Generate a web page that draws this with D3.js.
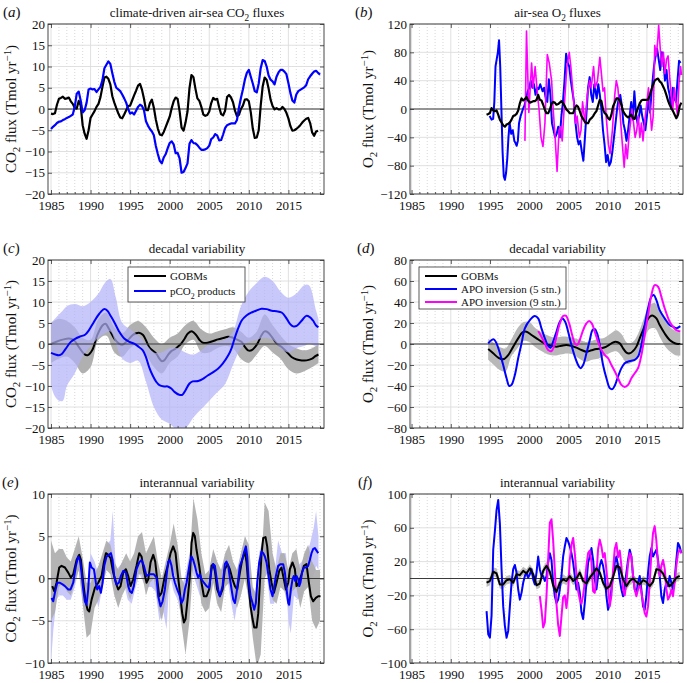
<!DOCTYPE html>
<html><head><meta charset="utf-8">
<script src="https://cdn.jsdelivr.net/npm/d3@7"></script>
<style>body{margin:0;background:#fff}</style>
</head><body>
<script>
// ---------------- DATA ----------------
const MAJOR_YEARS = [1985, 1990, 1995, 2000, 2005, 2010, 2015];
const MINOR_YEARS = [1985,1986,1987,1988,1989,1990,1991,1992,1993,1994,1995,1996,1997,1998,1999,2000,2001,2002,2003,2004,2005,2006,2007,2008,2009,2010,2011,2012,2013,2014,2015,2016,2017,2018,2019];
const X_ACE = [1984.62, 2019.5];
const X_BDF = [1984.8, 2019.6];
const Y_TICKS_A = [-20,-15,-10,-5,0,5,10,15,20];
const Y_TICKS_B = [-120,-80,-40,0,40,80,120];
const Y_TICKS_C = [-20,-15,-10,-5,0,5,10,15,20];
const Y_TICKS_D = [-80,-60,-40,-20,0,20,40,60,80];
const Y_TICKS_E = [-10,-5,0,5,10];
const Y_TICKS_F = [-100,-60,-20,20,60,100];

// (a) quarterly from 1985.0
const A_START = 1985.0, A_STEP = 0.25;
const aGOBM = [-1.1,-1.2,-1.0,1.0, 2.4,2.6,2.9,2.4, 2.5,2.7,1.8,1.2, 0.2,0.1,1.9,0.8, -3.8,-5.8,-7.0,-5.0, -2.1,-1.3,-0.5,0.5, 1.2,2.8,5.2,7.4, 7.6,7.1,5.8,3.0, 1.5,0.2,-1.0,-2.0, -2.2,-1.3,-0.3,0.7, 0.8,2.0,3.2,4.3, 5.5,5.9,4.5,2.4, -0.2,-0.3,1.4,2.2, 0.3,-2.5,-4.6,-6.0, -6.2,-5.4,-4.2,-3.0, -1.8,0.2,1.8,2.7, 2.4,-0.5,-4.4,-5.1, -3.2,-0.6,4.9,8.0, 7.5,4.8,2.5,1.9, 0.5,-1.3,-1.6,-1.4, -0.6,1.4,2.6,2.2, 2.4,0.4,-1.2,-1.5, -0.4,2.8,3.3,2.7, 1.6,-0.4,-1.7,-1.4, 0.0,0.8,2.2,2.3, 1.8,-0.8,-4.6,-6.8, -6.7,-5.0,0.8,5.3, 7.4,6.9,4.8,2.2, 0.7,-0.1,0.2,-0.1, -0.1,0.5,0.0,-0.9, -2.2,-4.0,-5.1,-5.0, -4.7,-4.3,-3.8,-3.2, -2.7,-2.3,-2.1,-3.3, -5.5,-6.3,-5.3,-5.1];
const aPCO2 = [-4.7,-4.2,-3.8,-3.3, -3.0,-2.9,-2.6,-2.4, -2.1,-1.9,-1.6,-1.3, 0.5,3.6,4.1,2.0, -0.8,-0.3,1.5,4.6, 4.8,4.6,4.7,4.0, 4.6,5.2,6.8,9.6, 10.4,11.2,10.6,8.4, 6.4,5.0,4.6,4.2, 3.4,2.5,1.5,0.0, -1.1,-0.8,-1.3,-0.4, 0.5,1.0,0.7,-0.3, -2.9,-3.9,-4.7,-5.3, -6.2,-8.7,-10.6,-12.2, -12.8,-11.4,-10.6,-9.2, -8.0,-7.6,-8.3,-10.4, -10.3,-11.6,-15.0,-14.8, -13.9,-12.8,-8.2,-7.3, -8.0,-8.1,-8.5,-9.1, -9.6,-9.6,-9.5,-9.2, -8.6,-7.1,-6.7,-5.9, -6.2,-7.4,-7.3,-6.0, -4.5,-3.8,-3.6,-3.4, -3.4,-3.4,-2.6,0.3, 2.6,4.6,6.9,8.5, 9.2,7.6,6.0,4.2, 3.9,6.0,9.6,11.5, 11.3,10.0,7.9,6.9, 6.5,5.8,7.6,8.6, 9.2,9.2,8.8,8.2, 6.1,3.8,2.0,1.5, 3.4,4.2,4.5,4.8, 5.1,5.6,7.0,7.7, 8.3,8.8,9.0,8.5, 8.1];

// (b)
const B_START = 1994.56, B_STEP = 0.2122;
const bGOBM = [-8,-7,-5.7,1.4,-2,-3,-2,-8,-15,-19, -23,-25,-22,-21,-19,-15,-10,-9,-7,-2, 8,15,12,14,17,12,9,10,11,11, 13,20,13,12,6,-1,-6,-6,-1,7, 10,9,6,7,9,11,8,4,-1,-3, -6,-6,-6,1,5,3,-3,-10,-14,-18, -20,-20,-15,-13,-10,-6,-3,5,13,11, -1,-6,-8,-13,-15,-8,4,9,15,15, 12,6,-3,-7,-10,-12,-10,-8,-13,-14, -5,2,8,12,13,13,13,13,19,27, 34,40,42,43,39,37,32,27,20,12, 6,1,-3,-8,-13,-8,4,9];
const bAPO5 = [[1994.95,-10],[1995.2,-15],[1995.4,-14],[1995.55,10],[1995.7,60],[1995.85,70],[1996.0,80],[1996.15,97],[1996.3,60],[1996.45,0],[1996.6,-60],[1996.75,-95],[1996.9,-100],[1997.05,-90],[1997.2,-70],[1997.35,-40],[1997.5,-20],[1997.7,-35],[1997.9,-30],[1998.1,-45],[1998.25,-48],[1998.4,-52],[1998.55,-45],[1998.7,-20],[1998.9,-10],[1999.2,0],[1999.4,5],[1999.6,15],[1999.8,25],[2000.0,30],[2000.2,40],[2000.4,30],[2000.6,35],[2000.8,20],[2001.0,30],[2001.2,28],[2001.4,35],[2001.7,25],[2001.9,30],[2002.1,15],[2002.3,10],[2002.5,42],[2002.7,20],[2002.9,-20],[2003.1,-30],[2003.3,-40],[2003.5,-35],[2003.7,-25],[2003.9,-40],[2004.1,-10],[2004.3,10],[2004.5,40],[2004.7,78],[2004.9,65],[2005.1,60],[2005.3,40],[2005.5,25],[2005.7,10],[2005.9,-20],[2006.1,-40],[2006.3,-50],[2006.5,-45],[2006.7,-60],[2006.9,-73],[2007.1,-40],[2007.3,-5],[2007.5,30],[2007.7,45],[2007.9,20],[2008.1,10],[2008.3,35],[2008.6,15],[2008.8,35],[2009.0,20],[2009.2,0],[2009.4,-30],[2009.6,-50],[2009.8,-75],[2010.0,-65],[2010.2,-80],[2010.4,-75],[2010.6,-60],[2010.8,-40],[2011.0,-20],[2011.2,0],[2011.4,15],[2011.6,20],[2011.8,5],[2012.0,-20],[2012.2,-30],[2012.4,-45],[2012.6,-30],[2012.8,-10],[2013.0,10],[2013.2,-15],[2013.4,25],[2013.6,-5],[2013.8,-20],[2014.0,-10],[2014.2,5],[2014.4,-10],[2014.6,-20],[2014.8,-30],[2015.0,-10],[2015.2,15],[2015.4,-5],[2015.6,25],[2015.9,60],[2016.1,75],[2016.3,85],[2016.5,70],[2016.7,55],[2016.9,80],[2017.1,70],[2017.3,40],[2017.5,55],[2017.7,30],[2017.9,20],[2018.1,0],[2018.3,30],[2018.5,15],[2018.7,10],[2018.9,40],[2019.1,68],[2019.3,65]];
const bAPO9 = [[1999.45,-45],[1999.65,110],[1999.95,-5],[2000.3,65],[2000.5,30],[2000.75,60],[2001.05,20],[2001.25,0],[2001.5,-40],[2001.75,-53],[2002.0,-20],[2002.3,77],[2002.55,65],[2002.85,40],[2003.05,0],[2003.3,-40],[2003.55,-88],[2003.8,-30],[2004.0,-25],[2004.2,-45],[2004.5,10],[2004.8,60],[2005.1,80],[2005.3,60],[2005.6,20],[2005.9,-20],[2006.1,-10],[2006.4,-40],[2006.6,-30],[2006.8,10],[2007.1,-20],[2007.4,20],[2007.7,40],[2007.9,30],[2008.2,60],[2008.4,30],[2008.7,40],[2009.0,73],[2009.2,50],[2009.4,25],[2009.6,30],[2009.8,-10],[2010.1,-50],[2010.3,-63],[2010.6,-30],[2010.9,20],[2011.1,40],[2011.3,30],[2011.6,-10],[2011.8,-40],[2012.1,-82],[2012.3,-50],[2012.5,-70],[2012.7,-40],[2012.9,-20],[2013.1,0],[2013.3,-20],[2013.5,-40],[2013.7,-30],[2013.9,-10],[2014.1,-40],[2014.3,-20],[2014.5,-45],[2014.7,-20],[2015.0,10],[2015.2,30],[2015.4,0],[2015.6,-30],[2015.8,-10],[2016.0,90],[2016.2,75],[2016.4,100],[2016.5,118],[2016.7,85],[2016.9,60],[2017.1,80],[2017.3,50],[2017.5,70],[2017.7,75],[2017.9,45],[2018.1,20],[2018.3,0],[2018.5,30],[2018.7,10],[2018.9,-10],[2019.1,40],[2019.3,60],[2019.4,48]];

// (c) decadal CO2
const cGOBM = [[1985.0,0],[1985.76,0.6],[1986.6,1.1],[1987.25,1.3],[1987.9,0.9],[1988.5,-0.7],[1989.15,-2.3],[1989.6,-2.7],[1990.2,-1.5],[1990.85,2.1],[1991.5,4.4],[1991.9,4.8],[1992.3,3.7],[1993.0,1.3],[1993.6,0.1],[1994.0,-0.2],[1994.7,0.9],[1995.3,2.1],[1995.7,2.5],[1996.1,2.7],[1996.6,2.2],[1997.0,0.9],[1997.4,-0.7],[1997.8,-1.5],[1998.3,-2.3],[1998.7,-3.5],[1999.0,-4.1],[1999.3,-3.9],[1999.75,-2.7],[2000.2,-1.7],[2000.6,-1.3],[2001.0,-0.7],[2001.45,0.1],[2001.9,1.3],[2002.3,2.5],[2002.85,3.0],[2003.35,2.1],[2003.8,0.9],[2004.2,0.3],[2004.8,0.3],[2005.5,0.7],[2006.1,1.1],[2006.7,1.4],[2007.4,1.7],[2007.8,1.6],[2008.2,1.3],[2008.65,0.9],[2009.1,0.5],[2009.5,-0.7],[2009.9,-1.5],[2010.35,-1.5],[2010.8,-0.7],[2011.2,0.5],[2011.6,2.1],[2012.0,3.0],[2012.45,2.7],[2012.9,1.7],[2013.5,0.2],[2014.15,-0.7],[2014.8,-1.9],[2015.4,-3.1],[2016.05,-3.7],[2016.7,-3.9],[2017.3,-3.9],[2018.0,-3.5],[2018.4,-2.9],[2018.8,-2.5]];
const cGOBMBand = [[1985,5.0,-4.5],[1986,6.0,-3.5],[1987,5.5,-3.0],[1988,4.0,-4.5],[1989,1.5,-7.0],[1990,1.0,-5.5],[1991,6.0,1.0],[1992,7.5,2.0],[1993,4.0,-2.0],[1994,2.5,-3.0],[1995,4.5,-1.0],[1996,5.5,0.0],[1997,4.0,-2.5],[1998,1.5,-5.5],[1999,0.0,-7.0],[2000,1.5,-4.5],[2001,2.5,-3.0],[2002,4.5,0.0],[2003,5.5,1.0],[2004,3.5,-2.0],[2005,2.5,-2.0],[2006,3.0,-1.0],[2007,3.5,-0.5],[2008,4.0,-1.0],[2009,3.0,-3.5],[2010,1.5,-4.5],[2011,3.0,-2.5],[2012,7.0,-0.5],[2013,4.5,-2.0],[2014,2.0,-3.5],[2015,0.0,-6.0],[2016,-1.0,-7.0],[2017,-1.5,-6.5],[2018,-1.0,-5.5],[2018.8,0.0,-4.5]];
const cPCO2 = [[1985.0,-2.1],[1985.55,-2.5],[1986.0,-2.7],[1986.4,-2.3],[1986.8,-1.3],[1987.5,0.5],[1988.1,1.3],[1988.7,1.8],[1989.3,2.2],[1989.8,3.3],[1990.4,5.2],[1991.1,7.2],[1991.7,8.3],[1992.1,8.0],[1992.5,6.8],[1993.0,5.2],[1993.6,3.0],[1994.25,1.3],[1994.9,0.5],[1995.5,0.1],[1996.1,-0.7],[1996.6,-1.5],[1997.0,-3.1],[1997.4,-5.5],[1997.85,-7.5],[1998.3,-9.0],[1998.7,-9.8],[1999.3,-10.1],[1999.75,-10.1],[2000.2,-10.6],[2000.6,-11.4],[2001.2,-12.1],[2001.6,-12.1],[2002.0,-11.0],[2002.5,-9.4],[2002.9,-8.9],[2003.6,-8.8],[2004.2,-8.3],[2004.8,-7.5],[2005.5,-6.7],[2006.1,-5.9],[2006.7,-4.7],[2007.4,-2.7],[2007.8,-1.1],[2008.2,1.3],[2008.65,3.7],[2009.1,5.6],[2009.7,6.8],[2010.35,7.5],[2011.0,8.0],[2011.6,8.4],[2012.25,8.3],[2012.9,7.9],[2013.5,7.8],[2014.15,7.5],[2014.8,6.0],[2015.2,4.8],[2015.6,4.2],[2016.05,4.3],[2016.7,5.6],[2017.25,6.7],[2017.7,6.4],[2018.1,5.6],[2018.5,4.4],[2018.8,4.0]];
const cPCO2Band = [[1985,5,-10],[1985.5,6,-12.5],[1986,7,-13.5],[1986.5,8,-13.5],[1987,9,-10],[1988,9.5,-7],[1989,9,-3],[1990,10,-0.5],[1991,12,1.5],[1991.8,14.5,2.5],[1992.5,15.5,3],[1993.2,11,0],[1994,5,-3.5],[1995,3.5,-4.5],[1996,2,-4],[1997,0,-9],[1998,-2,-15],[1999,-2,-18],[2000,-1,-19],[2001,-1,-20.5],[2002,-2,-20],[2003,-2.5,-17.5],[2004,-1.5,-15.5],[2005,0,-13.5],[2006,0.5,-11.5],[2007,1,-9.5],[2008,3,-5],[2009,9,-1],[2010,12.5,0.5],[2011,14.5,1],[2012,16,1.5],[2013,15,1],[2014,12.5,-1],[2015,11,-2],[2016,12,-1],[2017,14,-0.5],[2017.6,14,0],[2018.5,8,-0.5],[2018.8,6,-0.5]];

// (d) decadal O2
const dGOBM = [[1994.77,-4.8],[1995.41,-8.9],[1996.05,-13],[1996.68,-14.6],[1997.32,-10.5],[1997.96,-2.5],[1998.59,5.4],[1999.14,11.1],[1999.65,11.7],[2000.29,8.6],[2000.93,5.4],[2001.56,2.2],[2002.2,-0.3],[2002.84,-1.6],[2003.47,-2.5],[2004.11,-1.6],[2004.75,-1.0],[2005.38,-1.9],[2006.02,-3.5],[2006.66,-5.7],[2007.29,-7.3],[2007.93,-6.0],[2008.57,-4.8],[2009.2,-4.1],[2009.84,-2.5],[2010.48,0.6],[2011.03,2.2],[2011.54,0.6],[2011.96,-4.1],[2012.39,-8.2],[2012.81,-8.9],[2013.23,-6.7],[2013.66,-2.5],[2014.08,5.4],[2014.51,13.3],[2014.93,21.2],[2015.36,26],[2015.78,27],[2016.21,24.4],[2016.63,18],[2017.27,10],[2017.9,3.8],[2018.33,1.6],[2018.75,0.3],[2019.26,0]];
const dGOBMBand = [[1994.77,5,-15],[1995.5,1,-20],[1996.3,-3,-25],[1997.0,-4,-26],[1997.7,4,-12],[1998.5,15,-4],[1999.3,21,3],[2000.0,21,2],[2000.8,15,-3],[2001.6,11,-7],[2002.4,8,-10],[2003.2,6,-11],[2004.0,7,-10],[2004.8,7,-9],[2005.6,6,-10],[2006.4,4,-14],[2007.2,2,-17],[2008.0,3,-15],[2008.8,5,-14],[2009.6,6,-11],[2010.4,10,-8],[2011.1,13,-7],[2011.8,9,-12],[2012.5,1,-19],[2013.2,2,-17],[2013.9,10,-10],[2014.6,24,2],[2015.3,37,14],[2016.0,39,15],[2016.7,31,6],[2017.4,22,-3],[2018.1,15,-8],[2018.8,12,-11],[2019.26,11,-11]];
const dAPO5 = [[1994.77,0.6],[1995.2,3.8],[1995.49,4.4],[1995.83,0.6],[1996.26,-8.9],[1996.68,-20],[1997.11,-32.6],[1997.45,-40],[1997.74,-39],[1998.17,-29.5],[1998.59,-13.6],[1999.02,0.6],[1999.44,14.9],[2000.08,22.8],[2000.71,26.6],[2001.14,24.4],[2001.56,14.9],[2001.99,5.4],[2002.41,-1.9],[2002.71,-3.5],[2003.05,2.2],[2003.47,11.7],[2003.9,21.2],[2004.24,24.4],[2004.58,21.2],[2004.96,11.7],[2005.38,-1.0],[2005.81,-12],[2006.23,-20],[2006.53,-23],[2006.87,-20],[2007.29,-8.9],[2007.72,3.8],[2008.06,13.3],[2008.35,14.3],[2008.65,10.1],[2008.99,-1.0],[2009.41,-20],[2009.84,-32.6],[2010.26,-42],[2010.6,-43],[2010.94,-39],[2011.32,-31],[2011.75,-23],[2012.17,-18.4],[2012.6,-16.8],[2013.02,-16],[2013.45,-15.2],[2013.87,-12],[2014.3,-1.0],[2014.72,18],[2015.14,33.9],[2015.57,45],[2015.87,46.6],[2016.21,41.8],[2016.63,32.3],[2017.27,24.4],[2017.9,18],[2018.33,16.5],[2018.75,15],[2019.26,17]];
const dAPO9 = [[2001.14,12.4],[2001.56,7],[2001.99,0.6],[2002.41,-5.7],[2002.84,-6.7],[2003.13,-2.5],[2003.47,7],[2003.9,19.6],[2004.32,26.6],[2004.66,27],[2005.09,19.6],[2005.47,8.6],[2005.81,0.6],[2006.1,-1],[2006.44,3.8],[2006.87,13.3],[2007.29,19.6],[2007.63,21.9],[2007.97,19.6],[2008.35,11.7],[2008.78,2.2],[2009.2,-5.7],[2009.63,-10.5],[2010.05,-13.6],[2010.48,-20],[2010.9,-26],[2011.32,-32.6],[2011.75,-39],[2012.17,-41],[2012.6,-39],[2013.02,-32.6],[2013.45,-27.9],[2013.87,-23],[2014.3,-10.5],[2014.72,8.6],[2015.14,27.6],[2015.57,46.6],[2015.99,56],[2016.42,54.5],[2016.84,45],[2017.27,33.9],[2017.9,21.2],[2018.33,16.5],[2018.75,13.3],[2019.26,12]];

// (e) interannual CO2
const eGOBM = [[1985.16,-0.9],[1985.41,-1.5],[1985.70,-0.5],[1986.04,1.3],[1986.33,1.5],[1986.76,1.3],[1987.18,0.7],[1987.51,0.1],[1987.81,0.5],[1988.23,2.2],[1988.57,2.8],[1988.78,2.2],[1989.07,-0.5],[1989.37,-2.7],[1989.62,-3.7],[1989.83,-3.9],[1990.13,-2.5],[1990.55,-1.1],[1990.97,-0.5],[1991.39,0.3],[1991.68,1.9],[1991.94,3.0],[1992.23,2.8],[1992.53,2.4],[1992.86,0.7],[1993.20,-0.5],[1993.49,-1.3],[1993.79,-0.9],[1994.13,0.7],[1994.46,1.1],[1994.76,0.3],[1995.05,-0.9],[1995.39,-0.1],[1995.81,1.5],[1996.15,3.0],[1996.44,2.6],[1996.74,0.9],[1997.07,-0.5],[1997.29,-0.1],[1997.58,1.9],[1997.92,2.8],[1998.17,2.0],[1998.42,-0.1],[1998.68,-2.1],[1998.97,-1.7],[1999.39,0.3],[1999.81,1.7],[2000.11,3.0],[2000.44,3.8],[2000.74,3.0],[2000.95,1.1],[2001.29,-1.7],[2001.58,-4.1],[2001.79,-5.2],[2002.00,-4.8],[2002.26,-2.5],[2002.55,0.3],[2002.76,4.2],[2002.97,5.4],[2003.18,5.0],[2003.39,3.4],[2003.73,1.5],[2004.02,-0.5],[2004.32,-2.1],[2004.66,-2.1],[2004.99,-1.3],[2005.29,1.5],[2005.50,1.7],[2005.71,0.9],[2006.00,-1.3],[2006.34,-2.1],[2006.68,-1.3],[2006.97,1.1],[2007.31,1.7],[2007.60,1.1],[2007.94,-0.1],[2008.24,-0.9],[2008.53,-1.3],[2008.87,0.7],[2009.16,2.2],[2009.50,3.2],[2009.71,1.9],[2009.92,-0.5],[2010.22,-3.3],[2010.47,-4.8],[2010.68,-5.8],[2010.98,-5.8],[2011.19,-4.1],[2011.40,-0.5],[2011.61,3.0],[2011.82,4.8],[2012.11,4.9],[2012.32,3.8],[2012.58,1.1],[2012.87,-0.5],[2013.17,-1.7],[2013.50,-0.5],[2013.84,0.9],[2014.13,1.3],[2014.43,-0.1],[2014.68,-1.3],[2014.98,-0.5],[2015.19,1.1],[2015.52,1.9],[2015.82,1.1],[2016.03,-0.9],[2016.32,-0.5],[2016.66,0.5],[2016.96,1.5],[2017.29,1.7],[2017.59,-0.5],[2017.84,-2.1],[2018.13,-2.7],[2018.47,-2.3],[2018.77,-2.1],[2019.06,-2.1]];
const eGOBMBand = [[1985.0,4.5,-5],[1985.5,3,-4],[1986,3.5,-1],[1986.5,3.5,-0.5],[1987,2.5,-1.5],[1987.5,2,-2],[1988,3.5,-0.5],[1988.5,5,1],[1989,2.5,-3],[1989.5,-0.5,-7],[1990,-0.5,-6.5],[1990.5,0.5,-3.5],[1991,1.5,-2.5],[1991.5,3,-1],[1992,4.5,1],[1992.5,4,0.5],[1993,2,-2],[1993.5,1,-3.5],[1994,2,-2],[1994.5,3,-1],[1995,2,-2.5],[1995.5,3,-1],[1996,5,0.5],[1996.5,5.5,0.5],[1997,3,-2],[1997.5,4,-0.5],[1998,5,0],[1998.5,2,-3],[1999,0,-5],[1999.5,2,-2.5],[2000,4,-0.5],[2000.5,6.5,1],[2001,4,-1],[2001.5,0,-5.5],[2002,-1,-9],[2002.5,2,-5],[2003,9.5,2],[2003.5,7,1],[2004,3,-3],[2004.5,0.5,-4],[2005,1,-3.5],[2005.5,3.5,-0.5],[2006,2,-3],[2006.5,1,-4],[2007,3,-1],[2007.5,4,-0.5],[2008,2,-2],[2008.5,1,-3.5],[2009,3,-2],[2009.5,5,0],[2010,4,-2.5],[2010.5,-1,-7],[2011,-2,-10.5],[2011.5,0,-9],[2012,9,0],[2012.5,8,1],[2013,3,-2.5],[2013.5,1,-3],[2014,3,-1],[2014.5,3,-1.5],[2015,1,-3.5],[2015.5,3,-1.5],[2016,3.5,-1],[2016.5,1,-3.5],[2017,3,-1.5],[2017.5,4,-1],[2018,2,-5],[2018.5,1,-6],[2019.0,1,-5]];
const ePCO2 = [[1985.07,-2.3],[1985.28,-2.7],[1985.49,-1.7],[1985.79,-0.5],[1986.12,-0.5],[1986.46,-0.7],[1986.76,-0.9],[1987.18,-1.3],[1987.47,-1.3],[1987.81,-0.5],[1988.15,1.5],[1988.44,2.6],[1988.65,2.2],[1988.86,0.7],[1989.07,-1.3],[1989.28,-2.7],[1989.49,-3.1],[1989.70,-1.3],[1989.91,1.9],[1990.13,1.3],[1990.42,1.1],[1990.67,-0.5],[1990.84,-1.3],[1991.09,-0.9],[1991.30,-1.7],[1991.52,-0.5],[1991.73,1.5],[1992.02,2.6],[1992.32,2.8],[1992.57,3.0],[1992.78,2.2],[1992.99,0.3],[1993.28,-0.7],[1993.58,-0.5],[1993.83,0.3],[1994.13,0.9],[1994.46,0.7],[1994.76,-0.9],[1994.97,-1.5],[1995.22,-1.7],[1995.47,-0.9],[1995.81,1.1],[1996.15,1.9],[1996.44,2.2],[1996.74,1.5],[1997.07,0.3],[1997.41,0.5],[1997.71,0.5],[1998.00,0.5],[1998.34,0.1],[1998.55,-2.1],[1998.84,-3.3],[1999.10,-2.7],[1999.39,-1.3],[1999.60,0.3],[1999.81,2.0],[2000.02,2.2],[2000.23,1.5],[2000.44,0.3],[2000.66,-0.5],[2000.95,-1.3],[2001.29,-2.1],[2001.50,-2.9],[2001.71,-2.5],[2001.92,-1.3],[2002.13,-0.5],[2002.34,0.7],[2002.55,1.9],[2002.76,2.6],[2002.97,2.2],[2003.18,1.5],[2003.39,0.7],[2003.60,0.1],[2003.81,0.5],[2004.02,-0.1],[2004.32,-0.5],[2004.66,-0.9],[2004.99,-1.1],[2005.29,1.1],[2005.50,1.7],[2005.71,1.5],[2005.92,0.1],[2006.13,-1.3],[2006.34,-2.1],[2006.68,-0.9],[2006.97,1.7],[2007.18,2.0],[2007.39,1.5],[2007.60,0.1],[2007.82,-1.3],[2008.03,-2.5],[2008.24,-2.9],[2008.45,-1.7],[2008.66,-0.1],[2008.87,1.5],[2009.16,2.2],[2009.37,3.0],[2009.63,3.8],[2009.80,2.6],[2009.97,-0.1],[2010.22,-2.1],[2010.47,-2.9],[2010.68,-3.7],[2010.89,-2.9],[2011.06,-0.5],[2011.31,1.9],[2011.61,3.2],[2011.82,3.0],[2012.03,2.6],[2012.24,1.9],[2012.49,0.3],[2012.74,-1.3],[2012.99,-2.1],[2013.16,-1.3],[2013.42,0.3],[2013.71,1.5],[2014.01,1.7],[2014.34,1.7],[2014.56,0.7],[2014.77,-1.3],[2014.98,-2.9],[2015.10,-3.1],[2015.31,-1.3],[2015.52,-0.1],[2015.69,0.3],[2015.86,-0.3],[2016.03,0.3],[2016.24,-0.1],[2016.37,-0.9],[2016.52,-0.5],[2016.73,0.7],[2016.96,1.3],[2017.21,1.3],[2017.50,1.5],[2017.71,2.2],[2017.92,3.0],[2018.14,3.5],[2018.35,3.6],[2018.56,3.3],[2018.77,3.0]];
const ePCO2Band = [[1985.0,1,-10],[1985.3,0,-6],[1985.7,0.5,-2.5],[1986.0,1,-2],[1986.5,0.5,-2],[1987.0,0,-2.5],[1987.5,0,-2.5],[1988.0,2,-1],[1988.5,4,1],[1989.0,1.5,-2.5],[1989.5,-1,-5],[1990.0,3,0],[1990.5,2,-1.5],[1991.0,0.5,-3.5],[1991.5,2.5,-1],[1992.0,4,1],[1992.5,4.5,1.5],[1992.8,8,0.5],[1993.2,1,-2],[1993.7,1.5,-1.5],[1994.2,2,-0.5],[1994.7,1,-2.5],[1995.2,-0.5,-3],[1995.7,2,-1],[1996.2,3.5,0.5],[1996.7,2.5,-0.5],[1997.2,1.5,-1],[1997.7,2,-1],[1998.2,1.5,-1.5],[1998.7,-1,-5],[1999.2,0,-4],[1999.6,2,-6],[2000.0,3.5,0.5],[2000.5,2,-1.5],[2001.0,0.5,-2.5],[2001.5,-1,-4.5],[2002.0,0.5,-3],[2002.5,3,0],[2002.8,4,1],[2003.3,2.5,-0.5],[2003.8,1,-2],[2004.3,0.5,-2],[2004.8,0,-3.5],[2005.3,2.5,-0.5],[2005.7,3,0.5],[2006.2,0,-3],[2006.7,1.5,-2],[2007.2,3,0.5],[2007.7,1,-2.5],[2008.2,-1,-5],[2008.6,1,-2.5],[2009.0,3,0],[2009.6,5,2.5],[2010.0,2,-1.5],[2010.5,-1.5,-4.5],[2010.8,-2,-5.5],[2011.3,3,-0.5],[2011.7,4.5,1.5],[2012.2,3.5,1],[2012.7,0,-3],[2013.2,0,-3],[2013.7,4.5,0],[2014.2,3,0.5],[2014.7,3,-0.5],[2015.0,-1,-5],[2015.3,-1,-6.5],[2015.7,1,-2],[2016.2,1.5,-2.5],[2016.7,2,-2],[2017.2,3,-0.5],[2017.7,4,-0.5],[2018.2,6,0.5],[2018.5,8,1.5],[2018.8,5,1]];

// (f) interannual O2
const F_START = 1994.56, F_STEP = 0.2122, F_STEP_GOBM = 0.4244, F_START_APO9 = 2001.35;
const fGOBM = [-5,-3,8,6,-7,-7,-2,-1,-5,5, 4,9,6,12,5,-8,-6,9,15,8, -8,-16,-5,-1,-3,3,-3,0,7,-3, -6,1,6,12,7,-5,-12,-9,2,15, 13,-1,-9,-3,0,-4,-7,-2,-4,-9, -4,11,10,6,-3,-9,-5,1,3];
const fGOBMUpper = [-1,2,13,12,-2,-2,3,4,0,10, 9,14,11,17,11,-3,-1,14,20,14, -2,-10,1,5,2,8,2,5,12,2, -1,6,11,17,12,0,-6,-4,7,20, 18,4,-4,2,5,1,-2,3,1,-4, 1,16,15,11,2,-4,0,6,8];
const fGOBMLower = [-10,-8,3,1,-12,-12,-7,-6,-10,0, -1,4,1,7,0,-13,-11,4,10,3, -14,-22,-11,-6,-8,-2,-8,-5,2,-8, -11,-4,1,7,2,-10,-17,-14,-3,10, 8,-6,-14,-8,-5,-9,-12,-7,-9,-14, -9,6,5,1,-8,-14,-10,-4,-2];
const fAPO5 = [-38.6,-66,-70,-44,34,56,81,93,65,11, -33,-56,-70,-62,-33,-5,11,16,7,-13, -25,-17,-5,3,7,1,5,11,-1,-7, 7,26,11,3,3,-3,3,19,30,22, -5,-21,-29,-25,-13,3,26,38,48,44, 38,30,19,3,-13,-5,-17,-40,-48,-29, -5,19,26,36,22,-1,-13,3,15,22, 15,3,-21,-37,-29,-13,3,19,26,15, -1,-13,-21,-9,7,22,34,26,3,-13, -17,-5,3,-13,-33,-37,-21,7,26,36, 26,30,34,22,3,-21,-29,-13,-5,-9, 3,-5,-13,-1,22,42,38,30];
const fAPO9 = [-21,-37,-58,-52,-21,22,66,70,45,10, -30,-55,-68,-45,-22,-20,-35,-15,22,40, 48,30,5,-15,-25,-30,-20,-5,15,30, 33,20,-15,-17,3,35,46,38,25,30, 10,-10,-33,-20,10,35,42,25,33,15, -13,-20,-5,18,30,26,3,-13,-21,-13, -5,-17,-28,-41,-45,-33,-5,30,54,62, 45,18,3,15,22,12,-12,-25,-21,-13, -21,-5,15,30,34,30];

// ---------------- DRAWING ----------------
const FONT = '"Liberation Serif","Times New Roman",Times,serif';
const BLUE = '#0000ff', MAG = '#ff00ff', BLACK = '#000000';
const svg = d3.select('body').append('svg').attr('width', 687).attr('height', 683)
  .style('font-family', FONT);
const defs = svg.append('defs');

const seq = (start, step, vals) => vals.map((v, i) => [start + i * step, v]);
const seqBand = (start, step, up, lo) => up.map((u, i) => [start + i * step, u, lo[i]]);

function richText(sel, parts) {
  let shift = 0;
  parts.forEach(([s, t]) => {
    const target = t === 1 ? 3.5 : t === 2 ? -5.5 : 0;
    const ts = sel.append('tspan').text(s).attr('dy', target - shift);
    if (t) ts.attr('font-size', '72%');
    shift = target;
  });
}

function drawLine(p, data, x, y, color, curve, w) {
  p.append('path').datum(data)
    .attr('d', d3.line().x(d => x(d[0])).y(d => y(d[1])).curve(curve || d3.curveLinear))
    .attr('fill', 'none').attr('stroke', color).attr('stroke-width', w || 2)
    .attr('stroke-linejoin', 'round');
}
function drawBand(p, data, x, y, fill, op, curve) {
  p.append('path').datum(data)
    .attr('d', d3.area().x(d => x(d[0])).y0(d => y(d[2])).y1(d => y(d[1])).curve(curve || d3.curveLinear))
    .attr('fill', fill).attr('fill-opacity', op == null ? 1 : op).attr('stroke', 'none');
}

function styleAxis(g) {
  g.attr('font-family', FONT).attr('font-size', 13);
  g.select('.domain').remove();
  g.selectAll('.tick line').attr('stroke', '#333').attr('stroke-width', 0.8);
  g.selectAll('.tick text').attr('fill', '#111');
}

function panel(o) {
  const x = d3.scaleLinear().domain(o.xd).range([o.l, o.r]);
  const y = d3.scaleLinear().domain(o.yd).range([o.b, o.t]);
  const g = svg.append('g');
  const minor = MINOR_YEARS.filter(v => !MAJOR_YEARS.includes(v) && v > o.xd[0] && v < o.xd[1]);
  g.append('g').selectAll('line').data(minor).join('line')
    .attr('x1', d => x(d)).attr('x2', d => x(d)).attr('y1', o.t).attr('y2', o.b)
    .attr('stroke', '#bdbdbd').attr('stroke-width', 0.6).attr('stroke-dasharray', '1,2');
  g.append('g').selectAll('line').data(MAJOR_YEARS).join('line')
    .attr('x1', d => x(d)).attr('x2', d => x(d)).attr('y1', o.t).attr('y2', o.b)
    .attr('stroke', '#dcdcdc').attr('stroke-width', 0.9);
  g.append('g').selectAll('line').data(o.yt).join('line')
    .attr('x1', o.l).attr('x2', o.r).attr('y1', d => y(d)).attr('y2', d => y(d))
    .attr('stroke', '#dcdcdc').attr('stroke-width', 0.9);

  defs.append('clipPath').attr('id', 'clip-' + o.id).append('rect')
    .attr('x', o.l).attr('y', o.t).attr('width', o.r - o.l).attr('height', o.b - o.t);
  const p = g.append('g').attr('clip-path', `url(#clip-${o.id})`);
  const zero = () => p.append('line').attr('x1', o.l).attr('x2', o.r)
    .attr('y1', y(0)).attr('y2', y(0)).attr('stroke', '#3a3a3a').attr('stroke-width', 1);
  o.draw(p, x, y, zero);

  g.append('rect').attr('x', o.l).attr('y', o.t).attr('width', o.r - o.l).attr('height', o.b - o.t)
    .attr('fill', 'none').attr('stroke', '#333').attr('stroke-width', 0.9);

  // axes
  g.append('g').attr('transform', `translate(0,${o.b})`)
    .call(d3.axisBottom(x).tickValues(MAJOR_YEARS).tickFormat(d3.format('d')).tickSize(-4).tickPadding(7))
    .call(styleAxis);
  g.append('g').attr('transform', `translate(0,${o.b})`)
    .call(d3.axisBottom(x).tickValues(minor).tickFormat('').tickSize(-2)).call(styleAxis);
  g.append('g').attr('transform', `translate(0,${o.t})`)
    .call(d3.axisTop(x).tickValues(MAJOR_YEARS).tickFormat('').tickSize(-4)).call(styleAxis);
  g.append('g').attr('transform', `translate(${o.l},0)`)
    .call(d3.axisLeft(y).tickValues(o.yt).tickSize(-4).tickPadding(3)).call(styleAxis);
  g.append('g').attr('transform', `translate(${o.r},0)`)
    .call(d3.axisRight(y).tickValues(o.yt).tickFormat('').tickSize(-4)).call(styleAxis);

  // title
  const tt = g.append('text').attr('x', (o.l + o.r) / 2 + 11).attr('y', o.t - 7)
    .attr('text-anchor', 'middle').attr('font-size', 13).attr('fill', '#111');
  richText(tt, o.title);
  // panel label
  const lb = g.append('text').attr('x', o.lx).attr('y', o.t - 7).attr('font-size', 15).attr('fill', '#111');
  lb.append('tspan').text('(');
  lb.append('tspan').text(o.label).attr('font-style', 'italic');
  lb.append('tspan').text(')');
  // y label
  const yl = g.append('text').attr('transform', `translate(${o.ylx},${(o.t + o.b) / 2}) rotate(-90)`)
    .attr('text-anchor', 'middle').attr('font-size', 15).attr('fill', '#111');
  richText(yl, o.ylabel);
  return g;
}

function legend(g, x0, y0, w, h, items) {
  g.append('rect').attr('x', x0).attr('y', y0).attr('width', w).attr('height', h)
    .attr('fill', '#fff').attr('stroke', '#333').attr('stroke-width', 0.8);
  items.forEach((it) => {
    const yy = y0 + it.dy;
    g.append('line').attr('x1', x0 + 6).attr('x2', x0 + 38).attr('y1', yy).attr('y2', yy)
      .attr('stroke', it.color).attr('stroke-width', 2);
    const t = g.append('text').attr('x', x0 + 42).attr('y', yy + 4).attr('font-size', 11).attr('fill', '#111');
    richText(t, it.text);
  });
}

const CO2_LABEL = [['CO', 0], ['2', 1], [' flux (Tmol yr', 0], ['\u22121', 2], [')', 0]];
const O2_LABEL = [['O', 0], ['2', 1], [' flux (Tmol yr', 0], ['\u22121', 2], [')', 0]];
const smooth = d3.curveCatmullRom.alpha(0.5);

panel({ id: 'a', l: 48, r: 324, t: 24, b: 194, xd: X_ACE, yd: [-20, 20], yt: Y_TICKS_A,
  title: [['climate-driven air-sea CO', 0], ['2', 1], [' fluxes', 0]], label: 'a', lx: 3, ylx: 16, ylabel: CO2_LABEL,
  draw: (p, x, y, zero) => {
    zero();
    drawLine(p, seq(A_START, A_STEP, aGOBM), x, y, BLACK, null, 2.2);
    drawLine(p, seq(A_START, A_STEP, aPCO2), x, y, BLUE, null, 2.2);
  } });

panel({ id: 'b', l: 410, r: 683, t: 24, b: 194, xd: X_BDF, yd: [-120, 120], yt: Y_TICKS_B,
  title: [['air-sea O', 0], ['2', 1], [' fluxes', 0]], label: 'b', lx: 355, ylx: 373, ylabel: O2_LABEL,
  draw: (p, x, y, zero) => {
    zero();
    drawLine(p, bAPO5, x, y, BLUE);
    drawLine(p, bAPO9, x, y, MAG, null, 1.6);
    drawLine(p, seq(B_START, B_STEP, bGOBM), x, y, BLACK, null, 2.2);
  } });

const gc = panel({ id: 'c', l: 48, r: 324, t: 260, b: 428, xd: X_ACE, yd: [-20, 20], yt: Y_TICKS_C,
  title: [['decadal variability', 0]], label: 'c', lx: 3, ylx: 16, ylabel: CO2_LABEL,
  draw: (p, x, y, zero) => {
    drawBand(p, cGOBMBand, x, y, '#b0b0b0', 1, smooth);
    drawLine(p, cGOBM, x, y, BLACK, smooth);
    drawBand(p, cPCO2Band, x, y, 'rgb(177,177,248)', 0.7, smooth);
    zero();
    drawLine(p, cPCO2, x, y, BLUE, smooth);
  } });
legend(gc, 128, 267, 117, 35, [
  { dy: 9, color: BLACK, text: [['GOBMs', 0]] },
  { dy: 24, color: BLUE, text: [['pCO', 0], ['2', 1], [' products', 0]] }]);

const gd = panel({ id: 'd', l: 410, r: 683, t: 260, b: 428, xd: X_BDF, yd: [-80, 80], yt: Y_TICKS_D,
  title: [['decadal variability', 0]], label: 'd', lx: 357, ylx: 373, ylabel: O2_LABEL,
  draw: (p, x, y, zero) => {
    drawBand(p, dGOBMBand, x, y, '#b8b8b8', 1, smooth);
    zero();
    drawLine(p, dGOBM, x, y, BLACK, smooth);
    drawLine(p, dAPO5, x, y, BLUE, smooth);
    drawLine(p, dAPO9, x, y, MAG, smooth);
  } });
legend(gd, 419, 267, 147, 42, [
  { dy: 9, color: BLACK, text: [['GOBMs', 0]] },
  { dy: 22, color: BLUE, text: [['APO inversion (5 stn.)', 0]] },
  { dy: 35, color: MAG, text: [['APO inversion (9 stn.)', 0]] }]);

panel({ id: 'e', l: 48, r: 324, t: 494, b: 663, xd: X_ACE, yd: [-10, 10], yt: Y_TICKS_E,
  title: [['interannual variability', 0]], label: 'e', lx: 2, ylx: 16, ylabel: CO2_LABEL,
  draw: (p, x, y, zero) => {
    drawBand(p, ePCO2Band, x, y, 'rgb(200,200,250)', 1);
    drawBand(p, eGOBMBand, x, y, '#acacac', 0.9);
    zero();
    drawLine(p, eGOBM, x, y, BLACK);
    drawLine(p, ePCO2, x, y, BLUE);
  } });

panel({ id: 'f', l: 410, r: 683, t: 494, b: 663, xd: X_BDF, yd: [-100, 100], yt: Y_TICKS_F,
  title: [['interannual variability', 0]], label: 'f', lx: 358, ylx: 373, ylabel: O2_LABEL,
  draw: (p, x, y, zero) => {
    drawBand(p, seqBand(F_START, F_STEP_GOBM, fGOBMUpper, fGOBMLower), x, y, '#bdbdbd', 1);
    zero();
    drawLine(p, seq(F_START, F_STEP, fAPO5), x, y, BLUE);
    drawLine(p, seq(F_START_APO9, F_STEP, fAPO9), x, y, MAG);
    drawLine(p, seq(F_START, F_STEP_GOBM, fGOBM), x, y, BLACK);
  } });
</script>
</body></html>
